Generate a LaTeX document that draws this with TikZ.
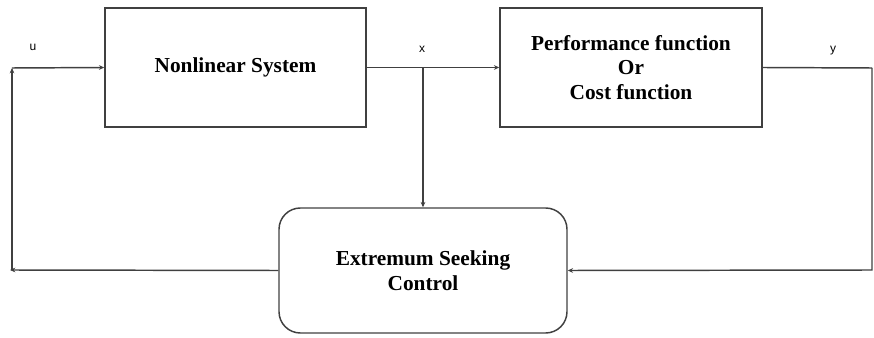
\documentclass[tikz,border=0pt]{standalone}
\usepackage{fontspec}
\setmainfont{Liberation Serif}
\newfontfamily\labelfont{Liberation Sans}
\usetikzlibrary{arrows.meta}

\tikzset{
  block/.style={shape=rectangle,draw=black!75,line width=1.1pt,align=center,font=\fontsize{16}{18.4}\selectfont\bfseries},
  esblock/.style={block,rounded corners=16pt},
  sig/.style={draw=black!75,line width=1.1pt},
  arr/.style={sig,-{Stealth[length=4pt,width=3.5pt]}},
  siglabel/.style={font=\labelfont\small}
}

\begin{document}
\begin{tikzpicture}[x=0.75pt,y=-0.75pt]
        \useasboundingbox (0,0) rectangle (874,338);

        \node[block,minimum width=195.75pt,minimum height=89.25pt] (NLS) at (235.5,67.5) {Nonlinear System};
        \node[block,minimum width=196.5pt,minimum height=89.25pt] (PF) at (631,67.5) {Performance function\\Or\\Cost function};
        \node[esblock,minimum width=216pt,minimum height=93.75pt] (ESC) at (423,270.5) {Extremum Seeking\\Control};

        \coordinate (UL) at (12,68);
        \coordinate (LL) at (12,270);
        \coordinate (LB) at (10,270);
        \coordinate (XJ) at (423,68);
        \coordinate (YR) at (872,68);
        \coordinate (RB) at (872,270);

        \node[siglabel] (U) at (33,47) {u};
        \node[siglabel] (X) at (422,49) {x};
        \node[siglabel] (Y) at (833,51) {y};

        \path (NLS.east) edge[arr] (PF.west);
        \path (XJ) edge[arr] (ESC.north);
        \path (PF.east) edge[sig] (YR);
        \draw [arr](YR) -- (RB) -- (ESC.east);
        \path (ESC.west) edge[arr] (LB);
        \path (LL) edge[arr] (UL);
        \path (UL) edge[arr] (NLS.west);
    \end{tikzpicture}
\end{document}
